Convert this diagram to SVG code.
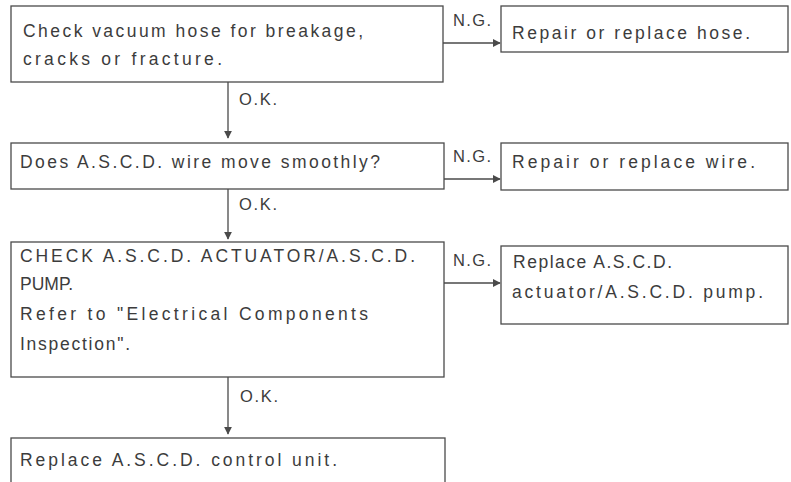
<svg xmlns="http://www.w3.org/2000/svg" width="791" height="482" viewBox="0 0 791 482">
<style>
.box{fill:#ffffff;stroke:#4a4a4a;stroke-width:1.3}
.t{font-family:"Liberation Sans",Arial,sans-serif;font-size:17.5px;fill:#3c3c3c}
.lbl{font-family:"Liberation Sans",Arial,sans-serif;font-size:16.5px;fill:#3c3c3c}
.c{stroke:#4a4a4a;stroke-width:1.3;fill:none}
</style>
<defs>
<marker id="ah" viewBox="0 0 10 10" refX="9" refY="5" markerWidth="8" markerHeight="8" markerUnits="userSpaceOnUse" orient="auto">
<path d="M0,0 L10,5 L0,10 Z" fill="#4a4a4a"/>
</marker>
</defs>
<rect width="791" height="482" fill="#ffffff"/>
<g id="connectors">
<line class="c" x1="228" y1="82" x2="228" y2="138" marker-end="url(#ah)"/>
<line class="c" x1="228" y1="189" x2="228" y2="239" marker-end="url(#ah)"/>
<line class="c" x1="228" y1="377" x2="228" y2="434" marker-end="url(#ah)"/>
<line class="c" x1="443" y1="43" x2="500" y2="43" marker-end="url(#ah)"/>
<line class="c" x1="444" y1="179" x2="500" y2="179" marker-end="url(#ah)"/>
<line class="c" x1="444" y1="283" x2="500" y2="283" marker-end="url(#ah)"/>
<text class="lbl" x="239" y="105" textLength="38" lengthAdjust="spacing">O.K.</text>
<text class="lbl" x="239" y="210" textLength="38" lengthAdjust="spacing">O.K.</text>
<text class="lbl" x="240" y="402" textLength="38" lengthAdjust="spacing">O.K.</text>
<text class="lbl" x="453" y="26" textLength="38" lengthAdjust="spacing">N.G.</text>
<text class="lbl" x="453" y="162" textLength="38" lengthAdjust="spacing">N.G.</text>
<text class="lbl" x="453" y="266" textLength="38" lengthAdjust="spacing">N.G.</text>
</g>
<g id="n1">
<rect class="box" x="11" y="6" width="432" height="76"/>
<text class="t" x="23" y="37" textLength="340" lengthAdjust="spacing">Check vacuum hose for breakage,</text>
<text class="t" x="23" y="65" textLength="199" lengthAdjust="spacing">cracks or fracture.</text>
</g>
<g id="n2">
<rect class="box" x="501" y="6" width="287" height="46"/>
<text class="t" x="512" y="39" textLength="238" lengthAdjust="spacing">Repair or replace hose.</text>
</g>
<g id="n3">
<rect class="box" x="11" y="143" width="433" height="46"/>
<text class="t" x="20" y="168" textLength="360" lengthAdjust="spacing">Does A.S.C.D. wire move smoothly?</text>
</g>
<g id="n4">
<rect class="box" x="501" y="143" width="287" height="47"/>
<text class="t" x="512" y="168" textLength="243" lengthAdjust="spacing">Repair or replace wire.</text>
</g>
<g id="n5">
<rect class="box" x="11" y="242" width="433" height="135"/>
<text class="t" x="20" y="262" textLength="395" lengthAdjust="spacing">CHECK A.S.C.D. ACTUATOR/A.S.C.D.</text>
<text class="t" x="20" y="290">PUMP.</text>
<text class="t" x="20" y="320" textLength="348" lengthAdjust="spacing">Refer to "Electrical Components</text>
<text class="t" x="20" y="350" textLength="110" lengthAdjust="spacing">Inspection".</text>
</g>
<g id="n6">
<rect class="box" x="501" y="246" width="287" height="78"/>
<text class="t" x="513" y="268" textLength="159" lengthAdjust="spacing">Replace A.S.C.D.</text>
<text class="t" x="512" y="298" textLength="251" lengthAdjust="spacing">actuator/A.S.C.D. pump.</text>
</g>
<g id="n7">
<rect class="box" x="11" y="438" width="434" height="60"/>
<text class="t" x="20" y="466" textLength="317" lengthAdjust="spacing">Replace A.S.C.D. control unit.</text>
</g>
</svg>
